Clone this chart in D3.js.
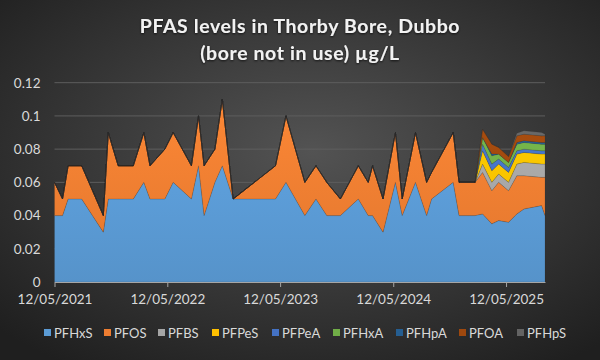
<!DOCTYPE html>
<html><head><meta charset="utf-8">
<script src="https://cdn.jsdelivr.net/npm/d3@7"></script>
<style>html,body{margin:0;padding:0;background:#2a2a2a;}svg{display:block;}</style>
</head><body>
<svg id="chart" width="600" height="360"></svg>
<script>
const dates = ["2021-05-12","2021-06-07","2021-06-25","2021-08-08","2021-10-17","2021-11-02","2021-12-04","2022-01-22","2022-02-25","2022-03-17","2022-05-04","2022-05-31","2022-07-29","2022-08-21","2022-09-08","2022-10-13","2022-11-06","2022-12-11","2023-04-27","2023-05-31","2023-07-31","2023-09-05","2023-10-10","2023-11-23","2024-01-20","2024-02-21","2024-03-06","2024-04-09","2024-05-19","2024-06-10","2024-07-23","2024-08-28","2024-09-13","2024-11-22","2024-12-11","2025-02-01","2025-02-25","2025-03-27","2025-04-18","2025-05-20","2025-06-16","2025-07-09","2025-09-04","2025-09-15"];
const PFHxS = [0.04,0.04,0.05,0.05,0.03,0.05,0.05,0.05,0.06,0.05,0.05,0.06,0.05,0.07,0.04,0.06,0.07,0.05,0.05,0.06,0.04,0.05,0.04,0.04,0.05,0.04,0.04,0.03,0.06,0.04,0.06,0.04,0.05,0.06,0.04,0.04,0.041,0.035,0.037,0.036,0.041,0.044,0.046,0.040];
const PFOS  = [0.02,0.01,0.02,0.02,0.01,0.04,0.02,0.02,0.03,0.02,0.03,0.03,0.02,0.03,0.03,0.02,0.04,0,0.02,0.04,0.02,0.02,0.02,0.01,0.02,0.02,0.03,0.02,0.03,0.01,0.03,0.02,0.016,0.03,0.02,0.02,0.025,0.020,0.023,0.019,0.023,0.020,0.017,0.023];
const PFBS  = [0,0,0,0,0,0,0,0,0,0,0,0,0,0,0,0,0,0,0,0,0,0,0,0,0,0,0,0,0,0,0,0,0,0,0,0,0.005,0.005,0.005,0.005,0.007,0.008,0.008,0.008];
const PFPeS = [0,0,0,0,0,0,0,0,0,0,0,0,0,0,0,0,0,0,0,0,0,0,0,0,0,0,0,0,0,0,0,0,0,0,0,0,0.008,0.007,0.006,0.006,0.006,0.006,0.006,0.006];
const PFPeA = [0,0,0,0,0,0,0,0,0,0,0,0,0,0,0,0,0,0,0,0,0,0,0,0,0,0,0,0,0,0,0,0,0,0,0,0,0.004,0.004,0.003,0.003,0.002,0.002,0.002,0.002];
const PFHxA = [0,0,0,0,0,0,0,0,0,0,0,0,0,0,0,0,0,0,0,0,0,0,0,0,0,0,0,0,0,0,0,0,0,0,0,0,0.004,0.005,0.003,0.003,0.004,0.004,0.004,0.004];
const PFHpA = [0,0,0,0,0,0,0,0,0,0,0,0,0,0,0,0,0,0,0,0,0,0,0,0,0,0,0,0,0,0,0,0,0,0,0,0,0,0.001,0,0,0.001,0.001,0.001,0.001];
const PFOA  = [0,0,0,0,0,0,0,0,0,0,0,0,0,0,0,0,0,0,0,0,0,0,0,0,0,0,0,0,0,0,0,0,0,0,0,0,0.005,0.006,0.004,0.0035,0.004,0.004,0.004,0.004];
const PFHpS = [0,0,0,0,0,0,0,0,0,0,0,0,0,0,0,0,0,0,0,0,0,0,0,0,0,0,0,0,0,0,0,0,0,0,0,0,0,0,0,0,0.0015,0.002,0.002,0.001];
const seriesNames = ["PFHxS","PFOS","PFBS","PFPeS","PFPeA","PFHxA","PFHpA","PFOA","PFHpS"];
const seriesValues = [PFHxS,PFOS,PFBS,PFPeS,PFPeA,PFHxA,PFHpA,PFOA,PFHpS];
const yTicks = [0,0.02,0.04,0.06,0.08,0.1,0.12];
const xTickDates = ["2021-05-12","2022-05-12","2023-05-12","2024-05-12","2025-05-12"];
const title = ["PFAS levels in Thorby Bore, Dubbo","(bore not in use) µg/L"];

const colors = ["#5b9bd5","#ed7d31","#a5a5a5","#ffc000","#4472c4","#70ad47","#255e91","#9e480e","#636363"];

const parse = d3.timeParse("%Y-%m-%d");
const fmt = d3.timeFormat("%d/%m/%Y");
const rows = dates.map((d,i)=>{
  const r = {date: parse(d)};
  seriesNames.forEach((k,j)=> r[k] = seriesValues[j][i]);
  return r;
});

const svg = d3.select("#chart");
const W = 600, H = 360;
const defs = svg.append("defs");
const bg = defs.append("radialGradient").attr("id","bg").attr("cx","52%").attr("cy","42%").attr("r","72%");
bg.append("stop").attr("offset","0%").attr("stop-color","#535353");
bg.append("stop").attr("offset","100%").attr("stop-color","#1f1f1f");
svg.append("rect").attr("width",W).attr("height",H).attr("fill","url(#bg)");

const m = {left:54.5, right:55, top:82.7, bottom:78};
const x = d3.scaleTime().domain(d3.extent(rows,d=>d.date)).range([m.left, W-m.right]);
const y = d3.scaleLinear().domain([0,0.12]).range([H-m.bottom, m.top]);

colors.forEach((c,i)=>{
  const g = defs.append("linearGradient").attr("id","g"+i)
    .attr("gradientUnits","userSpaceOnUse").attr("x1",0).attr("x2",0)
    .attr("y1",y(0.12)).attr("y2",y(0));
  g.append("stop").attr("offset","0%").attr("stop-color",d3.color(c).brighter(0.25));
  g.append("stop").attr("offset","100%").attr("stop-color",d3.color(c).darker(0.15));
});

svg.append("g").selectAll("line").data(yTicks.filter(t=>t>0)).join("line")
  .attr("x1",m.left).attr("x2",W-m.right)
  .attr("y1",d=>y(d)).attr("y2",d=>y(d))
  .attr("stroke","#5e5e5e").attr("stroke-width",1);

const stack = d3.stack().keys(seriesNames);
const layers = stack(rows);
const area = d3.area().x(d=>x(d.data.date)).y0(d=>y(d[0])).y1(d=>y(d[1]));
svg.append("g").selectAll("path").data(layers).join("path")
  .attr("d",area)
  .attr("fill",(d,i)=>"url(#g"+i+")")
  .attr("stroke","rgba(40,40,40,0.3)").attr("stroke-width",0.5);

const xAxis = d3.axisBottom(x).tickValues(xTickDates.map(parse)).tickFormat(fmt).tickSize(5).tickSizeOuter(0);
const gx = svg.append("g").attr("transform",`translate(0,${y(0)})`).call(xAxis);
gx.select(".domain").attr("stroke","#a6a6a6");
gx.selectAll(".tick line").attr("stroke","#a6a6a6");
gx.selectAll(".tick text").attr("fill","#d9d9d9").attr("font-family","Lato, sans-serif").attr("font-size","13.5px").attr("dy","1.05em");

const yAxis = d3.axisLeft(y).tickValues(yTicks).tickFormat(d3.format("~g")).tickSize(0).tickPadding(14);
const gy = svg.append("g").attr("transform",`translate(${m.left},0)`).call(yAxis);
gy.select(".domain").remove();
gy.selectAll(".tick text").attr("fill","#d9d9d9").attr("font-family","Lato, sans-serif").attr("font-size","13.5px");

const tf = defs.append("filter").attr("id","glow").attr("x","-10%").attr("y","-30%").attr("width","120%").attr("height","160%");
tf.append("feDropShadow").attr("dx",0).attr("dy",1).attr("stdDeviation",1.2).attr("flood-color","#000").attr("flood-opacity",0.7);
svg.append("g").selectAll("text").data(title).join("text")
  .attr("x",300).attr("y",(d,i)=>33+i*27)
  .attr("text-anchor","middle").attr("fill","#f2f2f2")
  .attr("font-family","Lato, sans-serif").attr("font-weight","bold").attr("font-size","19.5px")
  .attr("letter-spacing","0.6px")
  .attr("filter","url(#glow)")
  .text(d=>d);

const legX = [44,104,158,212,272,333,396,459,517];
const lg = svg.append("g").selectAll("g").data(seriesNames).join("g")
  .attr("transform",(d,i)=>`translate(${legX[i]},333)`);
lg.append("rect").attr("x",0).attr("y",-4).attr("width",7).attr("height",7).attr("fill",(d,i)=>colors[i]);
lg.append("text").attr("x",10).attr("y",0).attr("dy","0.35em").attr("fill","#d9d9d9")
  .attr("font-family","Lato, sans-serif").attr("font-size","13px").text(d=>d);
</script>
</body></html>
